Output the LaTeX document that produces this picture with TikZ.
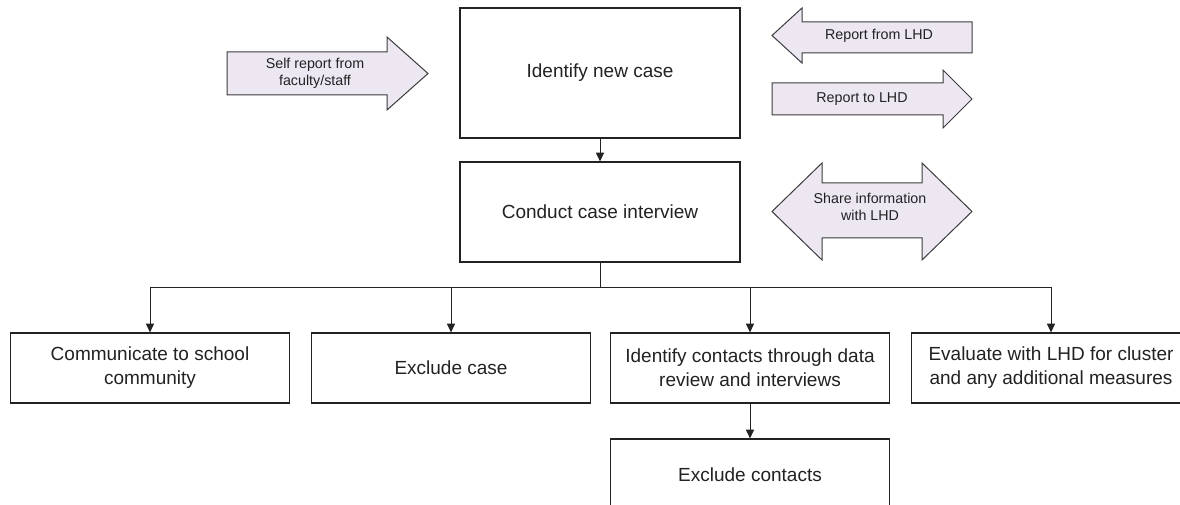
\documentclass[tikz,border=0pt]{standalone}
\usepackage{fontspec}
\setmainfont{Liberation Sans}
\usetikzlibrary{arrows.meta,calc}
\definecolor{ink}{RGB}{34,34,34}
\definecolor{edge}{RGB}{60,60,60}
\definecolor{lilac}{RGB}{237,231,242}
\tikzset{
  box/.style={draw=ink,line width=0.9pt,fill=white,align=center,inner sep=0pt,
    text=ink,font=\fontsize{14.25}{18}\selectfont,minimum width=#1},
  box/.default=209.25pt,
  flow/.style={-{Triangle[length=6.5pt,width=6pt]},line width=0.75pt,draw=ink},
  % block arrows
  blk/.style={draw=edge,fill=lilac,line width=0.75pt,line join=miter},
  lbl/.style={align=center,inner sep=0pt,text=ink,font=\fontsize{10.7}{13}\selectfont},
}
\begin{document}
\begin{tikzpicture}[x=0.75pt,y=-0.75pt]
  \useasboundingbox (0,0) rectangle (1180,505);
  % block arrows round the first box
  \draw[blk] (227,52) -- (387,52) -- (387,37) -- (428,73.5) -- (387,110) -- (387,95) -- (227,95) -- cycle;
  \node[lbl] (selfrep) at (315,73) {Self report from\\faculty/staff};
  \draw[blk] (972,22) -- (802,22) -- (802,8) -- (772,35.5) -- (802,63) -- (802,53) -- (972,53) -- cycle;
  \node[lbl] (fromlhd) at (879,35.5) {Report from LHD};
  \draw[blk] (772,83) -- (943,83) -- (943,70) -- (972,99) -- (943,128) -- (943,115) -- (772,115) -- cycle;
  \node[lbl] (tolhd) at (862,99) {Report to LHD};
  \draw[blk] (772,211.5) -- (822,163) -- (822,183) -- (922,183) -- (922,163) -- (972,211.5)
    -- (922,260) -- (922,238) -- (822,238) -- (822,260) -- cycle;
  \node[lbl] (share) at (870,207) {Share information\\with LHD};
  % main flow
  \node[box=210pt,minimum height=97.5pt] (newcase) at (600,73) {Identify new case};
  \node[box=210pt,minimum height=75pt] (interview) at (600,212) {Conduct case interview};
  \node[box,minimum height=52.5pt] (comm) at (150,368) {Communicate to school\\community};
  \node[box,minimum height=52.5pt] (exclcase) at (451,368) {Exclude case};
  \node[box,minimum height=52.5pt] (contacts) at (750,368) {Identify contacts through data\\review and interviews};
  \node[box,minimum height=52.5pt] (evaluate) at (1051,368) {Evaluate with LHD for cluster\\and any additional measures};
  \node[box,minimum height=54pt] (exclcontacts) at (750,475) {Exclude contacts};
  \coordinate (split) at ($(interview.south)+(0,25)$);
  \draw[flow] (newcase) -- (interview);
  \draw[line width=0.75pt,draw=ink] (interview.south) -- (split);
  \foreach \t in {comm,exclcase,contacts,evaluate}
    \draw[flow] (split) -| (\t.north);
  \draw[flow] (contacts) -- (exclcontacts);
\end{tikzpicture}
\end{document}
